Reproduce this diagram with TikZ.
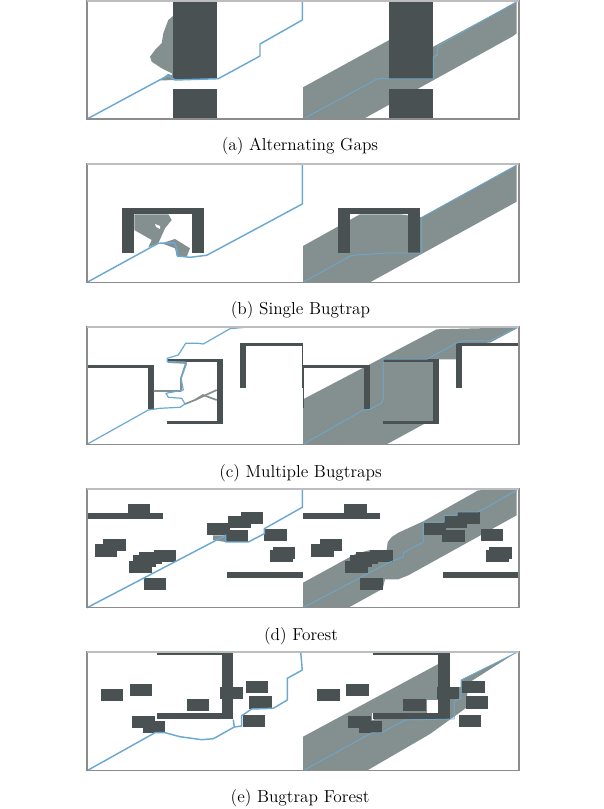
\documentclass[tikz,border=0pt]{standalone}
\usepackage{amsmath}
\definecolor{wallgray}{HTML}{495152}
\definecolor{sweepgray}{HTML}{84908F}
\definecolor{routeblue}{HTML}{6BA9D2}
\definecolor{framegray}{HTML}{8C8C8C}
\definecolor{toplinegray}{HTML}{BDBDBD}
\tikzset{
  wall/.style={fill=wallgray,draw=none},
  sweep/.style={fill=sweepgray,draw=none},
  route/.style={draw=routeblue,line width=1.1pt,line join=round},
  thinroute/.style={draw=routeblue,line width=0.6pt,line join=round},
  twig/.style={draw=sweepgray,line width=1.3pt,line join=round},
  panelframe/.style={draw=framegray,line width=0.9pt},
  paneltop/.style={draw=toplinegray,line width=0.9pt},
  caplabel/.style={inner sep=0.75pt,font=\fontsize{13}{15}\selectfont}
}
\newcommand{\wallsa}{%
  \fill[wall] (173,1) rectangle (217,79);
  \fill[wall] (173,89) rectangle (217,119);
}
\newcommand{\wallsb}{%
  \fill[wall] (122.3,208) rectangle (204.3,214.3);
  \fill[wall] (122.3,208) rectangle (134.3,253);
  \fill[wall] (192.3,208) rectangle (204.3,253);
}
\newcommand{\wallsc}{%
  \fill[wall] (87,365) rectangle (153.5,368.3);
  \fill[wall] (147.7,365) rectangle (153.5,409.3);
  \fill[wall] (87,365) rectangle (88.3,408);
  \fill[wall] (167.3,359.3) rectangle (222.7,362.3);
  \fill[wall] (216.7,359.3) rectangle (222.7,424);
  \fill[wall] (167.3,420.5) rectangle (222.7,424);
  \fill[wall] (240,343.3) rectangle (302.7,346);
  \fill[wall] (240,343.3) rectangle (246,387.7);
  \fill[wall] (301.7,343.3) rectangle (302.7,387.7);
}
\newcommand{\wallsd}{%
  \foreach \xa/\ya/\xb/\yb in {86.7/512.7/163.3/518.7, 127.7/504.3/150.3/512.7,
      95/544.3/117.3/556.7, 103.3/539.3/125.7/551.3, 129/560.7/151.7/572.7,
      133.3/554.7/156/566.7, 139.3/551.7/162/563.7, 153.7/549.7/176.3/562.3,
      144/577.7/166.3/589.7, 207.3/522.7/230/534.7, 228/516.3/250.7/528.3,
      240.7/512/263.3/524, 225.7/530/248.3/542.3, 264.3/528.7/287/540.7,
      270/550/292.7/562, 272.7/547.3/295.3/559.3, 226.7/571.7/302.7/578}
    {\fill[wall] (\xa,\ya) rectangle (\xb,\yb);}
}
\newcommand{\wallse}{%
  \foreach \xa/\ya/\xb/\yb in {157/651.7/233.3/655, 221.7/651.7/233.3/719.3,
      157/713.3/233.3/719.3, 101/689/123.3/701.3, 130/683.7/152.3/696,
      187/698.7/209.3/711, 132/715.7/154.7/728, 143/720.7/165.3/732.7,
      220.3/687/242.7/699, 246/681/268.3/693, 249.3/696.3/272/708.7,
      242.7/714.7/265/726.7}
    {\fill[wall] (\xa,\ya) rectangle (\xb,\yb);}
}
\begin{document}
\begin{tikzpicture}[x=0.75pt,y=0.75pt,yscale=-1,xscale=1]
\useasboundingbox (0,0) rectangle (603,809);

% Alternating Gaps
\fill[sweep] (173,16) -- (168.3,20) -- (163.3,33.3) -- (161.7,43.3) -- (155,50) -- (150,56.7) -- (151.7,61.7) -- (161.7,68.3) -- (171.7,73.3) -- (173,78) -- cycle;
\fill[sweep] (160,80.5) -- (168,74) -- (175,76) -- (175,80) -- cycle;
\fill[sweep] (303,87.3) -- (389.3,40) -- (433.3,46.7) -- (516.7,1.7) -- (516.7,33.3) -- (513.3,36) -- (363.3,119) -- (303,119) -- cycle;
\wallsa
\begin{scope}[shift={(216.3,0)}]
\wallsa
\end{scope}
\draw[route] (87,119) -- (168.3,75.3) -- (175,80) -- (218.3,78.7) -- (260,56) -- (260,44) -- (302.3,20) -- (302.3,1);
\draw[thinroute] (303,119) -- (377.7,78.7) -- (433.3,78.7) -- (433.3,56.7) -- (437.7,55) -- (437.7,46) -- (516.7,1.7);
\draw[panelframe] (87,1) rectangle (519,119);
\draw[paneltop] (87,1) -- (519,1);
\node[caplabel] (capa) at (300,146) {(a) Alternating Gaps};

% Single Bugtrap
\fill[sweep] (134.3,214.3) -- (168.3,214.3) -- (171.7,220) -- (165,228.3) -- (158.3,243.3) -- (148.3,247.3) -- (151.7,240) -- (134.3,230) -- cycle;
\fill[white] (155,224) -- (160,226) -- (160,229) -- (156,227) -- cycle;
\fill[sweep] (161.7,243.3) -- (175,239) -- (190,248.3) -- (186.7,256.7) -- (176.7,256) -- (175,248.3) -- cycle;
\fill[sweep] (303,246) -- (360,214.3) -- (400,214.3) -- (421.7,217.3) -- (516.7,165) -- (516.7,201.7) -- (370,282.3) -- (303,282.3) -- cycle;
\wallsb
\begin{scope}[shift={(216,0)}]
\wallsb
\end{scope}
\draw[route] (87,282.3) -- (158.3,243.3) -- (174.3,242.7) -- (176.7,248.3) -- (177.3,256) -- (190,257.3) -- (206.7,255.3) -- (302.3,204) -- (302.3,164);
\draw[thinroute] (303,282.3) -- (351.7,255.3) -- (388.3,253) -- (421.7,253) -- (421.7,217.3) -- (516.7,165);
\draw[panelframe] (87,164) rectangle (519,282.3);
\draw[paneltop] (87,164) -- (519,164);
\node[caplabel] (capb) at (300.5,310) {(b) Single Bugtrap};

% Multiple Bugtraps
\fill[sweep] (303,399.3) -- (436.7,329.3) -- (519,327.3) -- (490,342.7) -- (456,343.3) -- (456,359.3) -- (438.3,359.3) -- (438.3,420) -- (424,424) -- (386.7,444.3) -- (303,444.3) -- cycle;
\wallsc
\begin{scope}[shift={(216,0)}]
\wallsc
\end{scope}
\draw[twig] (153.5,391) -- (181,391) -- (181,378) -- (186,363) -- (168,362);
\draw[twig] (185,404) -- (195,400) -- (216.7,390);
\draw[twig] (195,400) -- (203,395) -- (216.7,400);
\draw[route,line width=0.9pt] (87,444.3) -- (148.3,410) -- (160,408.3) -- (180,407.3) -- (185,404) -- (181.7,398.3) -- (168.3,397.3) -- (166,393.3) -- (183.3,390) -- (181,378) -- (186,365) -- (185,362) -- (167.3,361.7) -- (167.3,358.3) -- (178.3,355) -- (185.7,343.3) -- (198.3,343.3) -- (203.3,344) -- (230,328.7) -- (251.7,326.7);
\draw[thinroute] (303,444.3) -- (363.3,410) -- (370,409.3) -- (381.7,402.7) -- (383.3,398.3) -- (383.3,359.3) -- (426.7,359.3) -- (456,343.3) -- (465,340.7) -- (490,340.7) -- (519,326.7);
\draw[panelframe] (87,327) rectangle (519,444.3);
\draw[paneltop] (87,327) -- (519,327);
\node[caplabel] (capc) at (300.5,473) {(c) Multiple Bugtraps};

% Forest
\fill[sweep] (213,535.3) -- (225.7,535.3) -- (225.7,542) -- (213,540) -- cycle;
\fill[sweep] (303,582.7) -- (356,553.7) -- (370,550) -- (386.7,550) -- (387.7,542) -- (391.7,537) -- (398.3,532.7) -- (423.3,521.3) -- (478.3,490.3) -- (516.7,489.3) -- (516.7,515.3) -- (408.3,575.3) -- (398.3,579.3) -- (385,579.3) -- (382.6,588.8) -- (348.3,607.7) -- (303,607.7) -- cycle;
\wallsd
\begin{scope}[shift={(216.3,0)}]
\wallsd
\end{scope}
\draw[route] (87,607.7) -- (225.7,535.3) -- (225.7,542) -- (248.3,542) -- (264.3,533.7) -- (264.3,528.7) -- (302.3,507.3) -- (302.3,488.7);
\draw[thinroute] (303,607.7) -- (390,562) -- (403.3,557) -- (403.3,552.7) -- (423.3,542) -- (423.3,522) -- (444.3,522) -- (444.3,515.3) -- (457.3,515.3) -- (457.3,512) -- (478.3,512) -- (516.7,490.3);
\draw[panelframe] (87,489) rectangle (519,607.7);
\draw[paneltop] (87,489) -- (519,489);
\node[caplabel] (capd) at (301,636) {(d) Forest};

% Bugtrap Forest
\fill[sweep] (303,736.7) -- (437.7,664.3) -- (449.6,658) -- (449.6,687) -- (461,687) -- (461,680) -- (517,652) -- (470,682) -- (466,700) -- (466,708) -- (430,734) -- (366.7,770.7) -- (303,770.7) -- cycle;
\fill[white] (426.7,700) rectangle (438,713.5);
\fill[white] (371.5,713) rectangle (373.5,719.5);
\wallse
\begin{scope}[shift={(216.3,0)}]
\wallse
\end{scope}
\draw[route] (87,770.7) -- (155,732.7) -- (165,732.7) -- (180,736.7) -- (201.7,739.7) -- (213.3,738.7) -- (234.3,727) -- (233.3,720) -- (234.3,727) -- (241.7,726) -- (241.7,715.7) -- (251.7,709) -- (273.3,708.3) -- (287.3,700) -- (287.3,678.3) -- (302.3,670) -- (300.7,652.3);
\draw[thinroute] (303,770.7) -- (372,732.7) -- (381.7,732.7) -- (405,720) -- (454.3,719) -- (454.3,701) -- (461,698.3) -- (461,680) -- (518.3,651.7);
\draw[panelframe] (87,652) rectangle (519,770.7);
\draw[paneltop] (87,652) -- (519,652);
\node[caplabel] (cape) at (300,798) {(e) Bugtrap Forest};

\end{tikzpicture}
\end{document}
